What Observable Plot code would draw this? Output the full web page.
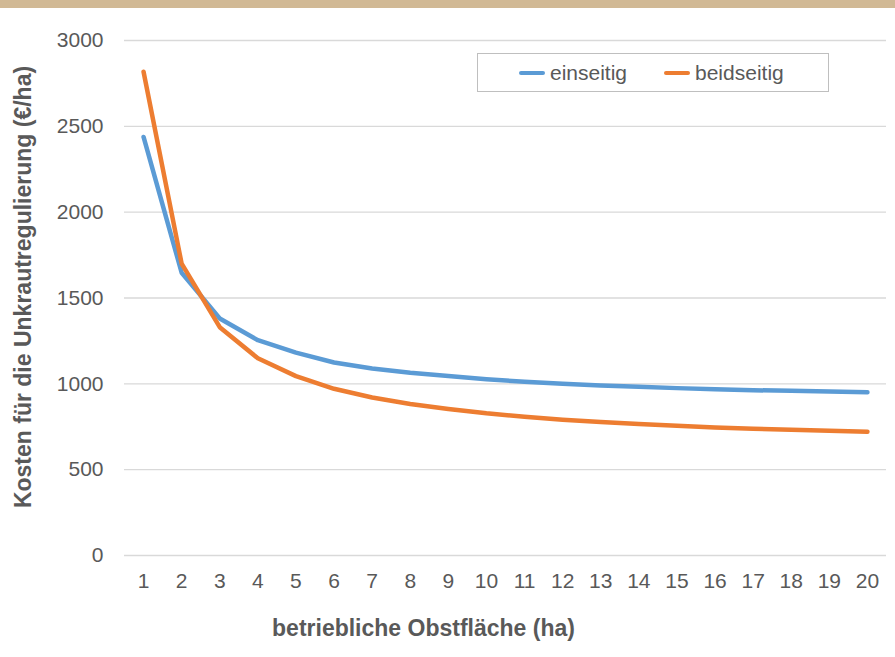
<!DOCTYPE html>
<html>
<head>
<meta charset="utf-8">
<script src="https://cdn.jsdelivr.net/npm/d3@7"></script>
<script src="https://cdn.jsdelivr.net/npm/@observablehq/plot@0.6"></script>
<style>
  html, body { margin: 0; padding: 0; background: #fff; }
  #chart { position: relative; width: 895px; height: 657px; font-family: "Liberation Sans", Arial, sans-serif; }
  #band { position: absolute; left: 0; top: 0; width: 895px; height: 8px; background: #d1b995; }
  #legend { position: absolute; left: 477px; top: 53px; width: 352px; height: 39px; border: 1px solid #bfbfbf; box-sizing: border-box; background: #fff; }
  .item { position: absolute; top: 0; height: 38px; display: flex; align-items: center; font-size: 21px; color: #595959; }
  .swatch { display: inline-block; width: 26px; height: 4px; border-radius: 2px; margin-right: 5px; }
</style>
</head>
<body>
<div id="chart"><div id="band"></div></div>
<script>
// Betriebliche Obstfläche in ha
const flaeche = [1, 2, 3, 4, 5, 6, 7, 8, 9, 10, 11, 12, 13, 14, 15, 16, 17, 18, 19, 20];
// Kosten der Unkrautregulierung in €/ha
const einseitig = [2438, 1647, 1381, 1254, 1182, 1124, 1089, 1064, 1045, 1027, 1012, 1000, 990, 983, 975, 969, 963, 959, 955, 951];
const beidseitig = [2818, 1700, 1330, 1149, 1045, 971, 920, 882, 853, 828, 808, 791, 777, 766, 756, 746, 738, 733, 727, 721];
const yTicks = [0, 500, 1000, 1500, 2000, 2500, 3000];
const serien = ["einseitig", "beidseitig"];
const farben = ["#5b9bd5", "#ed7d31"];

const rows = [];
serien.forEach((s, k) => {
  const werte = k === 0 ? einseitig : beidseitig;
  flaeche.forEach((x, i) => rows.push({serie: s, x, y: werte[i]}));
});

const plot = Plot.plot({
  width: 895,
  height: 657,
  marginLeft: 124,
  marginRight: 9,
  marginTop: 40,
  marginBottom: 102,
  style: {fontFamily: "Liberation Sans, Arial, sans-serif", color: "#595959", background: "transparent"},
  x: {domain: [0.5, 20.5]},
  y: {domain: [0, 3000]},
  color: {domain: serien, range: farben},
  marks: [
    Plot.ruleY(yTicks, {stroke: "#d9d9d9", strokeWidth: 1.3}),
    Plot.axisY({ticks: yTicks, tickFormat: d => String(d), tickSize: 0, tickPadding: 21, fontSize: 21, label: null}),
    Plot.axisX({ticks: flaeche, tickFormat: d => String(d), tickSize: 0, tickPadding: 18, fontSize: 21, label: null}),
    Plot.line(rows, {x: "x", y: "y", z: "serie", stroke: "serie", strokeWidth: 4.5, strokeLinecap: "round", strokeLinejoin: "round"}),
    Plot.text(["Kosten für die Unkrautregulierung (€/ha)"], {frameAnchor: "left", textAnchor: "middle", dx: -101, dy: -11, rotate: -90, fontSize: 23, fontWeight: "bold", fill: "#595959"}),
    Plot.text(["betriebliche Obstfläche (ha)"], {frameAnchor: "bottom", dx: -82, dy: 80, fontSize: 23, fontWeight: "bold", fill: "#595959"})
  ]
});
document.getElementById("chart").appendChild(plot);

// Legende
const legend = document.createElement("div");
legend.id = "legend";
const pos = [41, 186];
serien.forEach((s, k) => {
  const it = document.createElement("div");
  it.className = "item";
  it.style.left = pos[k] + "px";
  it.innerHTML = `<span class="swatch" style="background:${farben[k]}"></span>${s}`;
  legend.appendChild(it);
});
document.getElementById("chart").appendChild(legend);
</script>
</body>
</html>
